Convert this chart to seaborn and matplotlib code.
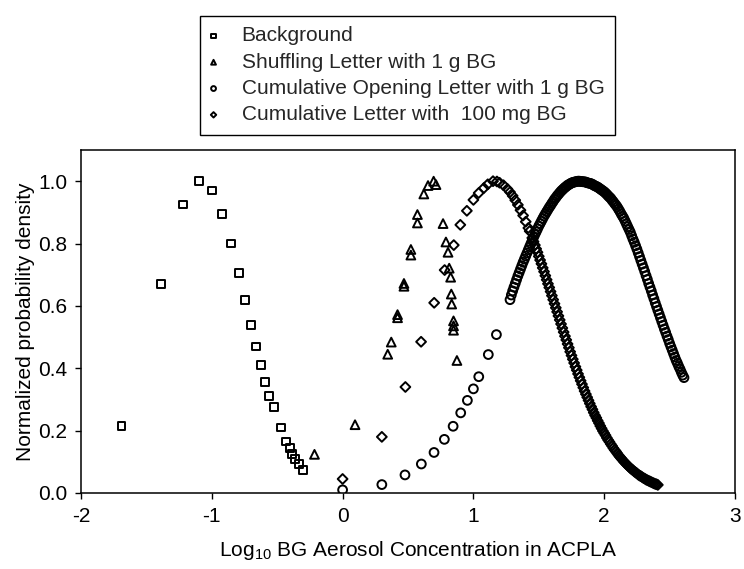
import matplotlib
matplotlib.use("Agg")
import matplotlib.pyplot as plt
import seaborn as sns
import pandas as pd

# ---------------- data ----------------
bg_x = [-1.69, -1.39, -1.22, -1.10, -1.00, -0.92, -0.85, -0.79, -0.745, -0.70, -0.66,
        -0.625, -0.59, -0.56, -0.525, -0.47, -0.43, -0.405, -0.385, -0.365, -0.335, -0.30]
bg_y = [0.215, 0.67, 0.925, 1.0, 0.97, 0.895, 0.80, 0.705, 0.62, 0.54, 0.47,
        0.41, 0.355, 0.31, 0.275, 0.21, 0.165, 0.145, 0.125, 0.11, 0.093, 0.075]

shuf_x = [-0.215, 0.095, 0.345, 0.372, 0.42, 0.42, 0.469, 0.469, 0.522, 0.522, 0.572, 0.572,
          0.621, 0.653, 0.696, 0.714, 0.768, 0.79, 0.806, 0.815, 0.826, 0.831, 0.834,
          0.848, 0.848, 0.848, 0.874]
shuf_y = [0.124, 0.219, 0.445, 0.484, 0.562, 0.572, 0.663, 0.672, 0.781, 0.763, 0.893, 0.866,
          0.959, 0.986, 1.0, 0.989, 0.864, 0.805, 0.772, 0.721, 0.692, 0.638, 0.606,
          0.552, 0.536, 0.522, 0.425]

open_x = [0.0, 0.30, 0.477, 0.602, 0.699, 0.778, 0.845, 0.903, 0.954, 1.0, 1.041, 1.114, 1.176,
          1.28, 1.29, 1.30, 1.31, 1.32, 1.33, 1.34, 1.35, 1.36, 1.37,
          1.38, 1.39, 1.40, 1.41, 1.42, 1.43, 1.44, 1.45, 1.46, 1.47,
          1.48, 1.49, 1.50, 1.51, 1.52, 1.53, 1.54, 1.55, 1.56, 1.57,
          1.58, 1.59, 1.60, 1.61, 1.62, 1.63, 1.64, 1.65, 1.66, 1.67,
          1.68, 1.69, 1.70, 1.71, 1.72, 1.73, 1.74, 1.75, 1.76, 1.77,
          1.78, 1.79, 1.80, 1.81, 1.82, 1.83, 1.84, 1.85, 1.86, 1.87,
          1.88, 1.89, 1.90, 1.91, 1.92, 1.93, 1.94, 1.95, 1.96, 1.97,
          1.98, 1.99, 2.00, 2.01, 2.02, 2.03, 2.04, 2.05, 2.06, 2.07,
          2.08, 2.09, 2.10, 2.11, 2.12, 2.13, 2.14, 2.15, 2.16, 2.17,
          2.18, 2.19, 2.20, 2.21, 2.22, 2.23, 2.24, 2.25, 2.26, 2.27,
          2.28, 2.29, 2.30, 2.31, 2.32, 2.33, 2.34, 2.35, 2.36, 2.37,
          2.38, 2.39, 2.40, 2.41, 2.42, 2.43, 2.44, 2.45, 2.46, 2.47,
          2.48, 2.49, 2.50, 2.51, 2.52, 2.53, 2.54, 2.55, 2.56, 2.57,
          2.58, 2.59, 2.60, 2.61]
open_y = [0.01, 0.027, 0.058, 0.093, 0.13, 0.172, 0.214, 0.257, 0.297, 0.334, 0.373, 0.444, 0.508,
          0.62, 0.635, 0.648, 0.66, 0.672, 0.684, 0.696, 0.707, 0.718, 0.729,
          0.74, 0.75, 0.76, 0.77, 0.78, 0.79, 0.80, 0.81, 0.82, 0.829,
          0.838, 0.847, 0.856, 0.864, 0.872, 0.88, 0.888, 0.895, 0.902, 0.909,
          0.916, 0.922, 0.929, 0.935, 0.942, 0.947, 0.953, 0.958, 0.963, 0.968,
          0.972, 0.976, 0.98, 0.983, 0.987, 0.989, 0.992, 0.994, 0.996, 0.997,
          0.998, 0.999, 1.0, 1.0, 0.999, 0.999, 0.998, 0.998, 0.997, 0.995,
          0.994, 0.993, 0.992, 0.99, 0.987, 0.985, 0.983, 0.981, 0.978, 0.975,
          0.972, 0.969, 0.966, 0.962, 0.958, 0.953, 0.949, 0.945, 0.939, 0.934,
          0.928, 0.923, 0.917, 0.91, 0.903, 0.895, 0.888, 0.881, 0.872, 0.863,
          0.854, 0.845, 0.836, 0.825, 0.814, 0.804, 0.793, 0.782, 0.77, 0.758,
          0.746, 0.734, 0.722, 0.71, 0.697, 0.685, 0.672, 0.66, 0.648, 0.635,
          0.623, 0.61, 0.598, 0.586, 0.574, 0.562, 0.55, 0.538, 0.526, 0.515,
          0.503, 0.492, 0.48, 0.469, 0.458, 0.447, 0.436, 0.425, 0.416, 0.406,
          0.397, 0.387, 0.378, 0.37]

cum_x = [0.0, 0.30, 0.48, 0.60, 0.70, 0.78, 0.85, 0.90, 0.95, 1.00, 1.04, 1.08, 1.11,
         1.15, 1.18, 1.20, 1.23, 1.26, 1.28, 1.30, 1.32, 1.34, 1.36, 1.38, 1.40, 1.42,
         1.43, 1.45, 1.46, 1.47, 1.48,
         1.49, 1.50, 1.51, 1.52, 1.53, 1.54, 1.55, 1.56, 1.57, 1.58,
         1.59, 1.60, 1.61, 1.62, 1.63, 1.64, 1.65, 1.66, 1.67, 1.68,
         1.69, 1.70, 1.71, 1.72, 1.73, 1.74, 1.75, 1.76, 1.77, 1.78,
         1.79, 1.80, 1.81, 1.82, 1.83, 1.84, 1.85, 1.86, 1.87, 1.88,
         1.89, 1.90, 1.91, 1.92, 1.93, 1.94, 1.95, 1.96, 1.97, 1.98,
         1.99, 2.00, 2.01, 2.02, 2.03, 2.04, 2.05, 2.06, 2.07, 2.08,
         2.09, 2.10, 2.11, 2.12, 2.13, 2.14, 2.15, 2.16, 2.17, 2.18,
         2.19, 2.20, 2.21, 2.22, 2.23, 2.24, 2.25, 2.26, 2.27, 2.28,
         2.29, 2.30, 2.31, 2.32, 2.33, 2.34, 2.35, 2.36, 2.37, 2.38,
         2.39, 2.40, 2.41]
cum_y = [0.045, 0.18, 0.34, 0.485, 0.61, 0.715, 0.795, 0.86, 0.905, 0.94, 0.962, 0.978, 0.99,
         1.0, 0.999, 0.995, 0.987, 0.975, 0.965, 0.953, 0.939, 0.924, 0.907, 0.89, 0.87, 0.85,
         0.84, 0.818, 0.806, 0.795, 0.783,
         0.772, 0.759, 0.747, 0.735, 0.722, 0.710, 0.697, 0.684, 0.671, 0.659,
         0.646, 0.633, 0.620, 0.607, 0.594, 0.581, 0.568, 0.555, 0.542, 0.529,
         0.516, 0.503, 0.491, 0.478, 0.466, 0.453, 0.441, 0.429, 0.417, 0.405,
         0.394, 0.382, 0.371, 0.360, 0.349, 0.338, 0.327, 0.317, 0.307, 0.297,
         0.287, 0.277, 0.268, 0.258, 0.249, 0.241, 0.232, 0.224, 0.215, 0.207,
         0.199, 0.192, 0.185, 0.177, 0.170, 0.164, 0.157, 0.151, 0.144, 0.138,
         0.133, 0.127, 0.121, 0.116, 0.111, 0.106, 0.101, 0.097, 0.092, 0.088,
         0.084, 0.080, 0.076, 0.073, 0.069, 0.066, 0.063, 0.059, 0.056, 0.054,
         0.051, 0.048, 0.046, 0.043, 0.041, 0.039, 0.037, 0.035, 0.033, 0.031,
         0.029, 0.028, 0.026]

series_labels = ["Background", "Shuffling Letter with 1 g BG",
                 "Cumulative Opening Letter with 1 g BG", "Cumulative Letter with  100 mg BG"]
x_ticks = [-2, -1, 0, 1, 2, 3]
y_ticks = [0.0, 0.2, 0.4, 0.6, 0.8, 1.0]

# ---------------- styling ----------------
sns.set_theme(style="ticks")
plt.rcParams["font.family"] = ["Liberation Sans", "DejaVu Sans"]
plt.rcParams["mathtext.fontset"] = "custom"
plt.rcParams["mathtext.rm"] = "Liberation Sans"
plt.rcParams["mathtext.it"] = "Liberation Sans:italic"
plt.rcParams["mathtext.bf"] = "Liberation Sans:bold"
plt.rcParams["mathtext.default"] = "rm"
plt.rcParams["axes.unicode_minus"] = False

FS = 15
fig = plt.figure(figsize=(7.44, 5.69), dpi=100)
# axes box: left 81 px, right 735 px, top 150 px, bottom 493 px
ax = fig.add_axes([81 / 744, 1 - 493 / 569, (735 - 81) / 744, (493 - 150) / 569])

specs = [
    (bg_x, bg_y, "s", 32, series_labels[0]),
    (shuf_x, shuf_y, "^", 40, series_labels[1]),
    (open_x, open_y, "o", 40, series_labels[2]),
    (cum_x, cum_y, "D", 25, series_labels[3]),
]
for xs, ys, mk, size, lab in specs:
    df = pd.DataFrame({"x": xs, "y": ys})
    sns.scatterplot(data=df, x="x", y="y", marker=mk, s=size, color="black",
                    ax=ax, label=lab, legend=False)
    coll = ax.collections[-1]
    coll.set_facecolor("none")
    coll.set_edgecolor("black")
    coll.set_linewidth(1.4)

ax.set_xlim(-2, 3)
ax.set_ylim(0, 1.1)
ax.set_xticks(x_ticks)
ax.set_xticklabels([str(t) for t in x_ticks])
ax.set_yticks(y_ticks)
ax.set_yticklabels([f"{t:.1f}" for t in y_ticks])
ax.tick_params(axis="x", direction="out", length=4, width=1, labelsize=FS, pad=6, colors="black")
ax.tick_params(axis="y", direction="out", length=4, width=1, labelsize=FS, pad=6, colors="black")
for sp in ax.spines.values():
    sp.set_visible(True)
    sp.set_color("black")
    sp.set_linewidth(1.1)

ax.set_xlabel("Log$_{10}$ BG Aerosol Concentration in ACPLA", fontsize=FS, labelpad=7, color="black")
ax.xaxis.set_label_coords(0.515, -0.135)
ax.set_ylabel("Normalized probability density", fontsize=FS, labelpad=2, color="black")

handles, labels = ax.get_legend_handles_labels()
leg = fig.legend(handles, labels, loc="upper left", bbox_to_anchor=(200 / 744, 1 - 16 / 569),
                 frameon=True, fancybox=False, edgecolor="black", framealpha=1,
                 fontsize=FS, markerscale=0.55, handletextpad=1.2, labelspacing=0.35,
                 borderpad=0.5, handlelength=0.3, scatterpoints=1, borderaxespad=0)
leg.get_frame().set_linewidth(1.0)

fig.savefig("out.png", dpi=100)
